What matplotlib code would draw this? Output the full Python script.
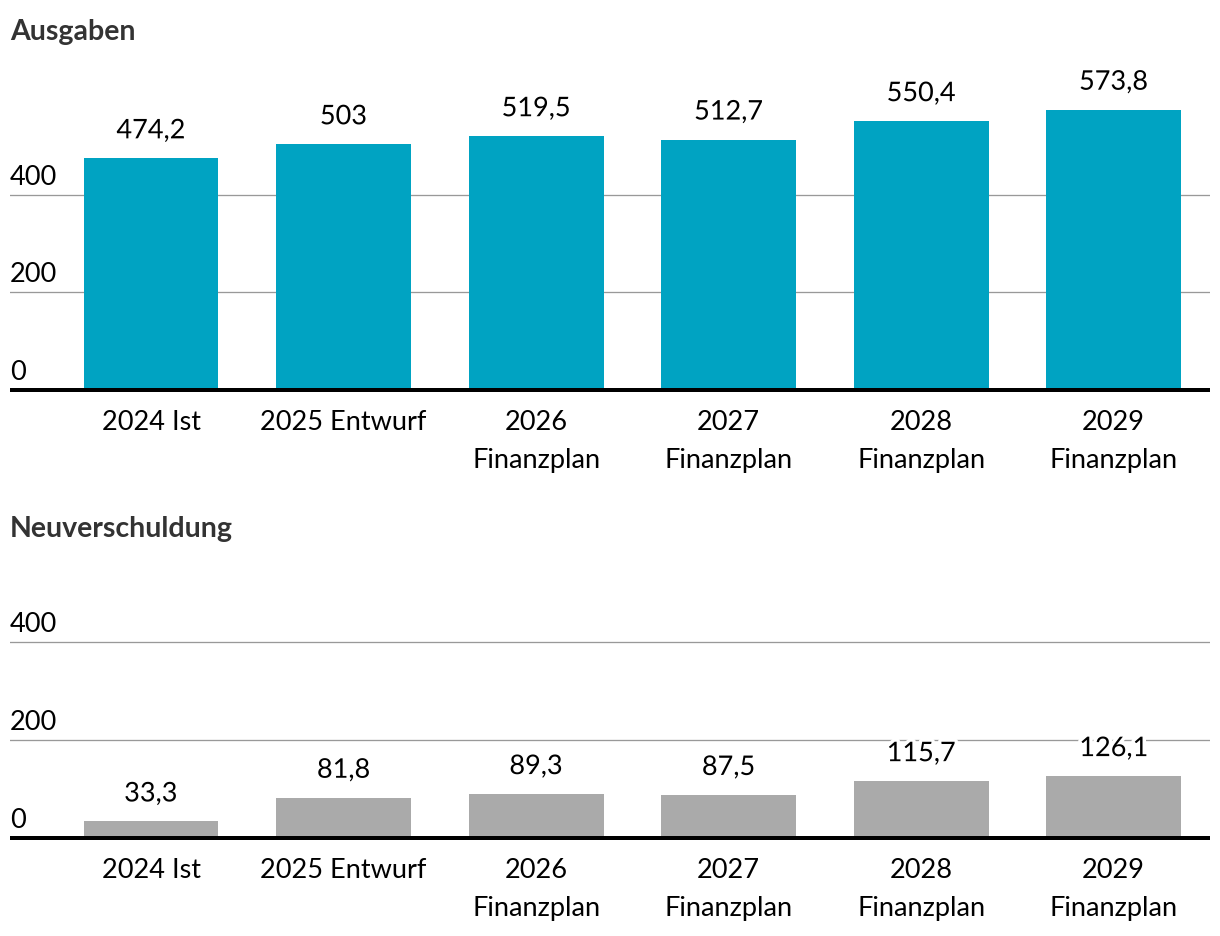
import matplotlib
matplotlib.use("Agg")
import matplotlib.pyplot as plt
import matplotlib.patheffects as pe
import numpy as np

categories = ["2024 Ist", "2025 Entwurf", "2026\nFinanzplan", "2027\nFinanzplan",
              "2028\nFinanzplan", "2029\nFinanzplan"]
ausgaben = [474.2, 503, 519.5, 512.7, 550.4, 573.8]
neuverschuldung = [33.3, 81.8, 89.3, 87.5, 115.7, 126.1]
ausgaben_labels = ["474,2", "503", "519,5", "512,7", "550,4", "573,8"]
neu_labels = ["33,3", "81,8", "89,3", "87,5", "115,7", "126,1"]
yticks = [0, 200, 400]
titles = ["Ausgaben", "Neuverschuldung"]

W, H = 1220, 936
DPI = 100
FONT = "Lato"
FS = 19.5
TFS = 20.5
plt.rcParams['font.family'] = [FONT, 'DejaVu Sans']

fig = plt.figure(figsize=(W / DPI, H / DPI), dpi=DPI)
PT = 72 / DPI  # points per pixel

ppu = 0.4885  # pixels per unit
x_left, x_right = 10, 1210
xmin, xmax = -0.7325, 5.5


def make_axes(y_zero, y_top):
    ax = fig.add_axes([x_left / W, 1 - y_zero / H, (x_right - x_left) / W, (y_zero - y_top) / H])
    ax.set_xlim(xmin, xmax)
    ax.set_ylim(0, (y_zero - y_top) / ppu)
    ax.set_axis_off()
    return ax


def draw(ax, values, labels, color):
    x = np.arange(len(values))
    for t in yticks:
        if t > 0:
            ax.axhline(t, color="#999999", lw=1.3 * PT, zorder=1)
        ax.annotate(str(t), xy=(0, t), xycoords=("axes fraction", "data"),
                    xytext=(0, 10 * PT), textcoords="offset points",
                    ha="left", va="baseline", fontsize=FS, color="black", zorder=3)
    ax.bar(x, values, width=0.7, color=color, zorder=2)
    ax.axhline(0, color="black", lw=4 * PT, zorder=4, solid_capstyle="butt", clip_on=False)
    for xi, v, lab in zip(x, values, labels):
        ax.annotate(lab, xy=(xi, v), xytext=(0, 20 * PT), textcoords="offset points",
                    ha="center", va="baseline", fontsize=FS, color="black", zorder=5,
                    annotation_clip=False,
                    path_effects=[pe.withStroke(linewidth=5, foreground="white")])
    for xi, cat in zip(x, categories):
        for k, line in enumerate(cat.split("\n")):
            ax.annotate(line, xy=(xi, 0), xytext=(0, -(40 + 38 * k) * PT),
                        textcoords="offset points", ha="center", va="baseline",
                        fontsize=FS, color="black", annotation_clip=False)


ax1 = make_axes(390, 60)
draw(ax1, ausgaben, ausgaben_labels, "#00A3C2")
ax2 = make_axes(837.7, 560)
draw(ax2, neuverschuldung, neu_labels, "#AAAAAA")

fig.text(10 / W, 1 - 40 / H, titles[0], fontsize=TFS, fontweight="bold",
         color="#333333", ha="left", va="baseline")
fig.text(10 / W, 1 - 537 / H, titles[1], fontsize=TFS, fontweight="bold",
         color="#333333", ha="left", va="baseline")

fig.savefig("out.png", dpi=DPI)
